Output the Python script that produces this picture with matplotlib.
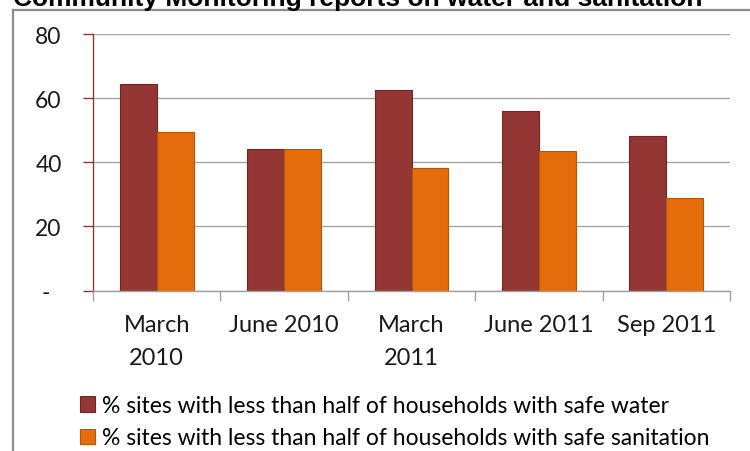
import matplotlib
matplotlib.use("Agg")
import matplotlib.pyplot as plt
from matplotlib.lines import Line2D
from matplotlib.patches import Patch
from matplotlib.transforms import ScaledTranslation

title = "Community Monitoring reports on water and sanitation"
categories = ["March\n2010", "June 2010", "March\n2011", "June 2011", "Sep 2011"]
water = [64.5, 44.2, 62.4, 56.0, 48.2]
sanitation = [49.4, 44.2, 38.2, 43.5, 28.9]
series_names = ["% sites with less than half of households with safe water",
                "% sites with less than half of households with safe sanitation"]
yticks = [0, 20, 40, 60, 80]
ytick_labels = ["-", "20", "40", "60", "80"]

c_water = "#943634"
c_san = "#E46C0A"
e_water = "#6E2624"
e_san = "#B4560A"

W, H = 750, 452
fig = plt.figure(figsize=(W / 100, H / 100), dpi=100)
fig.patch.set_facecolor("white")

ax = fig.add_axes([93 / W, 1 - 291.5 / H, (730 - 93) / W, (291.5 - 35) / H])

n = len(categories)
centers = [i + 0.5 for i in range(n)]
bw = 0.29
ax.bar([c - bw / 2 for c in centers], water, width=bw, color=c_water,
       edgecolor=e_water, linewidth=0.8, zorder=3)
ax.bar([c + bw / 2 for c in centers], sanitation, width=bw, color=c_san,
       edgecolor=e_san, linewidth=0.8, zorder=3)

ax.set_xlim(0, n)
ax.set_ylim(0, 80)

font_tick = ["Lato", "DejaVu Sans"]
ax.set_yticks(yticks)
ax.set_yticklabels(ytick_labels, fontsize=16.5, family=font_tick, color="#1a1a1a")
ax.yaxis.grid(True, color="#a6a6a6", linewidth=1.0, zorder=0)
ax.tick_params(axis="y", length=7, width=1.0, color="#8B3A3A", pad=15.5)

ax.set_xticks(centers)
ax.set_xticklabels(categories, fontsize=17, family=font_tick, color="#1a1a1a",
                   linespacing=1.7)
ax.set_xticks(range(n + 1), minor=True)
ax.tick_params(axis="x", which="major", length=0, pad=17)
ax.tick_params(axis="x", which="minor", length=7, width=1.0, color="#a0a0a0")

for s in ["top", "right"]:
    ax.spines[s].set_visible(False)
ax.spines["left"].set_color("#8B3A3A")
ax.spines["left"].set_linewidth(1.0)
ax.spines["bottom"].set_color("#a0a0a0")
ax.spines["bottom"].set_linewidth(1.0)
ax.spines["bottom"].set_zorder(4)

# shift the "-" label left like the reference
for lab in ax.get_yticklabels():
    if lab.get_text() == "-":
        lab.set_transform(lab.get_transform() +
                          ScaledTranslation(-12 / 100, 0, fig.dpi_scale_trans))

# outer frame (partially visible)
fig.add_artist(Line2D([13.5 / W, 13.5 / W], [0, 1 - 10.5 / H], transform=fig.transFigure,
                      color="#8c8c8c", linewidth=1.6))
fig.add_artist(Line2D([13.5 / W, 1], [1 - 10.5 / H, 1 - 10.5 / H], transform=fig.transFigure,
                      color="#8c8c8c", linewidth=1.6))

# title, cut off at the top as in the reference
fig.text(13 / W, 1 - 6 / H, title, fontsize=19, fontweight="bold",
         family=["Liberation Sans", "DejaVu Sans"], va="baseline", ha="left",
         color="black")

handles = [Patch(facecolor=c_water, edgecolor=e_water, linewidth=0.8),
           Patch(facecolor=c_san, edgecolor=e_san, linewidth=0.8)]
fig.legend(handles, series_names, loc="upper left",
           bbox_to_anchor=(64 / W, 1 - 380 / H), frameon=False,
           prop={"family": font_tick, "size": 16.5},
           handlelength=0.65, handleheight=0.65, handletextpad=0.3,
           labelspacing=0.5, borderpad=0.2)

fig.savefig("out.png", dpi=100, facecolor="white")
